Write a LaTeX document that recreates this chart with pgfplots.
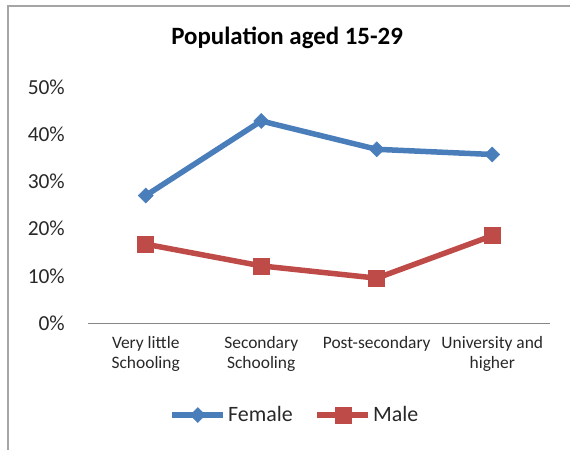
\documentclass[border=0pt]{standalone}
\usepackage{pgfplots}
\pgfplotsset{compat=1.18}
\usepackage{fontspec}
\setmainfont{Carlito}
\definecolor{fem}{RGB}{74,126,187}
\definecolor{male}{RGB}{190,75,72}
\definecolor{framec}{RGB}{165,165,165}
\definecolor{axc}{RGB}{134,134,134}
\definecolor{txt}{RGB}{40,40,40}
\begin{document}
\begin{tikzpicture}
\useasboundingbox (-88bp,-127bp) rectangle (482bp,323bp);
\draw[color=framec, line width=1.2bp] (-80bp,-127bp) -- (-80bp,317bp) -- (482bp,317bp);
\begin{axis}[
  at={(0bp,0bp)}, anchor=south west,
  scale only axis, width=462bp, height=236bp,
  xmin=-0.5, xmax=3.5, ymin=0, ymax=50,
  clip=false,
  axis lines=left,
  axis line style={-},
  y axis line style={draw=none},
  x axis line style={color=axc, line width=1bp},
  major tick length=0pt,
  ytick={0,10,20,30,40,50},
  yticklabel={\pgfmathprintnumber{\tick}\%},
  /pgf/number format/assume math mode=true,
  yticklabel style={font=\fontsize{21.5}{24}\selectfont, text=txt, anchor=east, inner sep=0pt, xshift=-23bp},
  xtick={0,1,2,3},
  xticklabels={{Very little\\Schooling},{Secondary\\Schooling},{Post-secondary},{University and\\higher}},
  xticklabel style={font=\fontsize{17.5}{20.5}\selectfont, text=txt, align=center, anchor=north, inner sep=0pt, yshift=-13bp},
  title={Population aged 15-29},
  title style={at={(0.431,1.182)}, anchor=center, font=\bfseries\fontsize{25}{30}\selectfont, text=black},
  legend columns=2,
  legend style={at={(0.448,-0.39)}, anchor=center, draw=none, fill=none,
    font=\fontsize{22}{26}\selectfont, text=txt,
    /tikz/every even column/.append style={column sep=20bp},
    nodes={inner sep=2bp}},
  legend cell align=left,
  legend image code/.code={\draw[mark repeat=2,mark phase=2,#1] plot coordinates {(0bp,0bp) (25.5bp,0bp) (51bp,0bp)};},
]
\addplot[color=fem, line width=5.5bp, mark=square*, mark size=5.3bp, mark options={rotate=45, line width=0.5bp}] coordinates {(0,27.0)(1,42.8)(2,36.8)(3,35.7)};
\addlegendentry{Female}
\addplot[color=male, line width=5.5bp, mark=square*, mark size=8bp, mark options={line width=0.5bp}] coordinates {(0,16.7)(1,12.1)(2,9.5)(3,18.5)};
\addlegendentry{Male}
\end{axis}
\end{tikzpicture}
\end{document}
